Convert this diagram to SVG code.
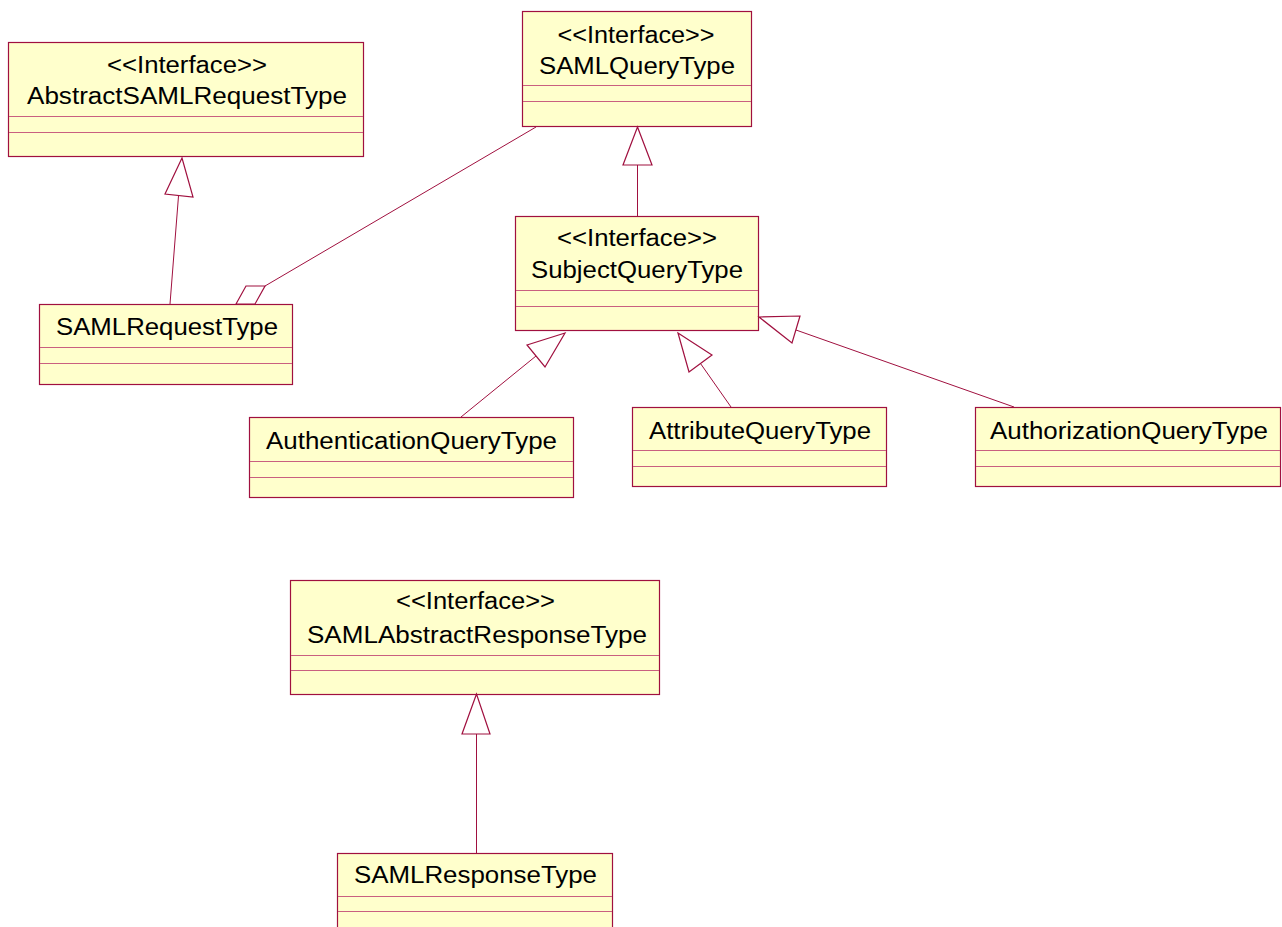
<svg xmlns="http://www.w3.org/2000/svg" width="1282" height="927" viewBox="0 0 1282 927">
<style>
.box{fill:#FFFFCC;stroke:#A0103F;stroke-width:1.2}
.sep{stroke:#C96080;stroke-width:1}
.t{font-family:"Liberation Sans",Arial,sans-serif;font-size:23.5px;fill:#000;text-anchor:middle}
.c{stroke:#A0103F;stroke-width:1;fill:none}
.h{stroke:#A0103F;stroke-width:1.2;fill:#FFFFFF}
</style>
<rect width="1282" height="927" fill="#FFFFFF"/>
<g id="AbstractSAMLRequestType">
<rect class="box" x="8.5" y="42.5" width="355" height="114"/>
<line class="sep" x1="9" y1="116.5" x2="363" y2="116.5"/>
<line class="sep" x1="9" y1="132.5" x2="363" y2="132.5"/>
<text class="t" x="187" y="73" textLength="160" lengthAdjust="spacingAndGlyphs">&lt;&lt;Interface&gt;&gt;</text>
<text class="t" x="187" y="104" textLength="320" lengthAdjust="spacingAndGlyphs">AbstractSAMLRequestType</text>
</g>
<g id="SAMLQueryType">
<rect class="box" x="522.5" y="11.5" width="229" height="115"/>
<line class="sep" x1="523" y1="85.5" x2="751" y2="85.5"/>
<line class="sep" x1="523" y1="101.5" x2="751" y2="101.5"/>
<text class="t" x="636" y="43" textLength="157" lengthAdjust="spacingAndGlyphs">&lt;&lt;Interface&gt;&gt;</text>
<text class="t" x="637" y="74" textLength="196" lengthAdjust="spacingAndGlyphs">SAMLQueryType</text>
</g>
<g id="SAMLRequestType">
<rect class="box" x="39.5" y="304.5" width="253" height="80"/>
<line class="sep" x1="40" y1="347.5" x2="292" y2="347.5"/>
<line class="sep" x1="40" y1="363.5" x2="292" y2="363.5"/>
<text class="t" x="167" y="335" textLength="222" lengthAdjust="spacingAndGlyphs">SAMLRequestType</text>
</g>
<g id="SubjectQueryType">
<rect class="box" x="515.5" y="216.5" width="243" height="114"/>
<line class="sep" x1="516" y1="290.5" x2="758" y2="290.5"/>
<line class="sep" x1="516" y1="306.5" x2="758" y2="306.5"/>
<text class="t" x="637" y="246" textLength="160" lengthAdjust="spacingAndGlyphs">&lt;&lt;Interface&gt;&gt;</text>
<text class="t" x="637" y="278" textLength="212" lengthAdjust="spacingAndGlyphs">SubjectQueryType</text>
</g>
<g id="AuthenticationQueryType">
<rect class="box" x="249.5" y="417.5" width="324" height="80"/>
<line class="sep" x1="250" y1="461.5" x2="573" y2="461.5"/>
<line class="sep" x1="250" y1="477.5" x2="573" y2="477.5"/>
<text class="t" x="411.5" y="449" textLength="291" lengthAdjust="spacingAndGlyphs">AuthenticationQueryType</text>
</g>
<g id="AttributeQueryType">
<rect class="box" x="632.5" y="407.5" width="254" height="79"/>
<line class="sep" x1="633" y1="450.5" x2="886" y2="450.5"/>
<line class="sep" x1="633" y1="466.5" x2="886" y2="466.5"/>
<text class="t" x="760" y="439" textLength="222" lengthAdjust="spacingAndGlyphs">AttributeQueryType</text>
</g>
<g id="AuthorizationQueryType">
<rect class="box" x="975.5" y="407.5" width="305" height="79"/>
<line class="sep" x1="976" y1="450.5" x2="1280" y2="450.5"/>
<line class="sep" x1="976" y1="466.5" x2="1280" y2="466.5"/>
<text class="t" x="1129" y="439" textLength="278" lengthAdjust="spacingAndGlyphs">AuthorizationQueryType</text>
</g>
<g id="SAMLAbstractResponseType">
<rect class="box" x="290.5" y="580.5" width="369" height="114"/>
<line class="sep" x1="291" y1="655.5" x2="659" y2="655.5"/>
<line class="sep" x1="291" y1="670.5" x2="659" y2="670.5"/>
<text class="t" x="475.5" y="609" textLength="159" lengthAdjust="spacingAndGlyphs">&lt;&lt;Interface&gt;&gt;</text>
<text class="t" x="477" y="643" textLength="340" lengthAdjust="spacingAndGlyphs">SAMLAbstractResponseType</text>
</g>
<g id="SAMLResponseType">
<rect class="box" x="337.5" y="853.5" width="275" height="82"/>
<line class="sep" x1="338" y1="896.5" x2="612" y2="896.5"/>
<line class="sep" x1="338" y1="911.5" x2="612" y2="911.5"/>
<text class="t" x="475.5" y="883" textLength="243" lengthAdjust="spacingAndGlyphs">SAMLResponseType</text>
</g>
<g id="connectors">
<line class="c" x1="170" y1="304" x2="178.5" y2="196"/>
<polygon class="h" points="182,158 165,194 193,197"/>
<line class="c" x1="637.5" y1="216" x2="637.5" y2="165"/>
<polygon class="h" points="637.5,127 623,165 652,165"/>
<line class="c" x1="265" y1="286" x2="536" y2="127"/>
<polygon class="h" points="236,304 246,286 265,286 255,304"/>
<line class="c" x1="461" y1="417" x2="536" y2="356"/>
<polygon class="h" points="565,333 527,345 545,367"/>
<line class="c" x1="731" y1="407" x2="700.5" y2="363.5"/>
<polygon class="h" points="678,333 712,355 689,372"/>
<line class="c" x1="1014" y1="407" x2="796" y2="330"/>
<polygon class="h" points="759,317 800,316 792,343"/>
<line class="c" x1="476.5" y1="853" x2="476.5" y2="734"/>
<polygon class="h" points="476.5,694 462,734 490,734"/>
</g>
</svg>
